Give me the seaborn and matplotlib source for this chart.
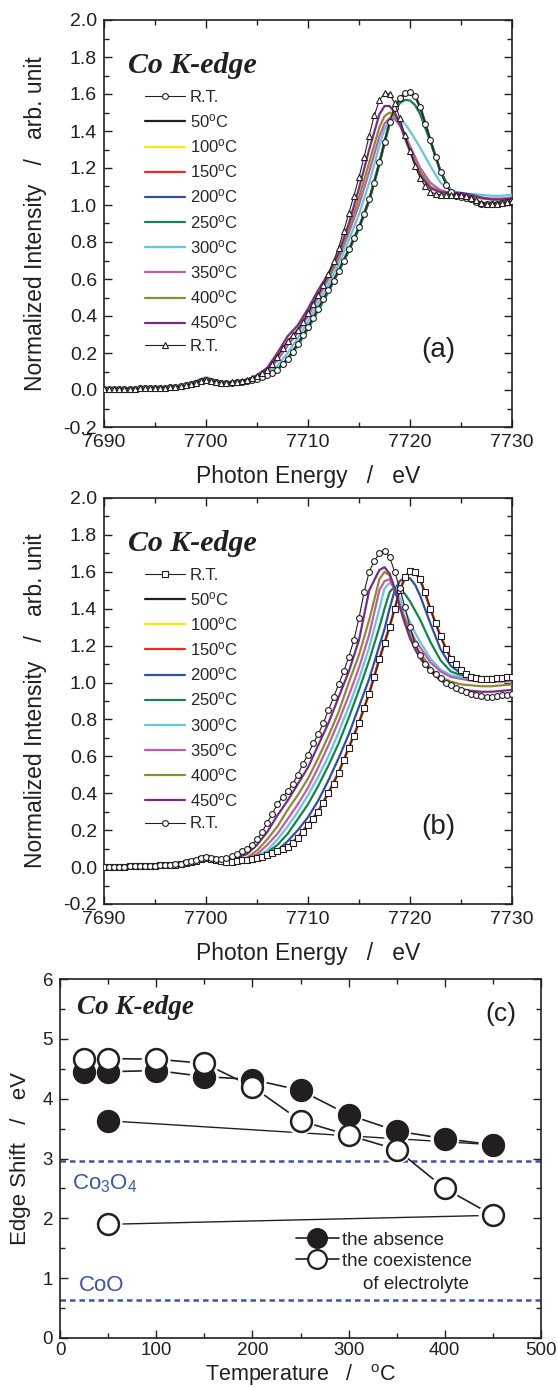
import matplotlib
matplotlib.use('Agg')
import matplotlib.pyplot as plt
import seaborn as sns
from matplotlib.ticker import MultipleLocator
from matplotlib.lines import Line2D

# ---------------- data ----------------
# fine energy grid for the marker (R.T.) spectra
E_FINE = [7690, 7690.5, 7691, 7691.5, 7692, 7692.5, 7693, 7693.5, 7694, 7694.5,
          7695, 7695.5, 7696, 7696.5, 7697, 7697.5, 7698, 7698.5, 7699, 7699.5,
          7700, 7700.5, 7701, 7701.5, 7702, 7702.5, 7703, 7703.5, 7704, 7704.5,
          7705, 7705.5, 7706, 7706.5, 7707, 7707.5, 7708, 7708.5, 7709, 7709.5,
          7710, 7710.5, 7711, 7711.5, 7712, 7712.5, 7713, 7713.5, 7714, 7714.5,
          7715, 7715.5, 7716, 7716.5, 7717, 7717.5, 7718, 7718.5, 7719, 7719.5,
          7720, 7720.5, 7721, 7721.5, 7722, 7722.5, 7723, 7723.5, 7724, 7724.5,
          7725, 7725.5, 7726, 7726.5, 7727, 7727.5, 7728, 7728.5, 7729, 7729.5,
          7730]
# coarse energy grid for the temperature spectra
E_GRID = [7690, 7692, 7694, 7696, 7698, 7699, 7700, 7701, 7702, 7703,
          7704, 7705, 7706, 7707, 7708, 7709, 7710, 7711, 7712, 7713,
          7714, 7715, 7716, 7717, 7717.5, 7718, 7718.5, 7719, 7719.5, 7720,
          7720.5, 7721, 7722, 7723, 7724, 7725, 7726, 7727, 7728, 7729, 7730]

TEMP_LABELS = [50, 100, 150, 200, 250, 300, 350, 400, 450]
TEMP_COLORS = ['#231F20', '#F5EB00', '#EE2A24', '#2E4FA3', '#13854A',
               '#62C9DD', '#C25AAE', '#8C8C2C', '#7A2A88']

# ---- panel (a) ----
A_RT_FIRST = [0.005, 0.005, 0.006, 0.006, 0.007, 0.007, 0.008, 0.009, 0.010, 0.010,
              0.011, 0.012, 0.013, 0.015, 0.018, 0.021, 0.025, 0.032, 0.040, 0.050,
              0.055, 0.050, 0.042, 0.037, 0.036, 0.038, 0.041, 0.045, 0.050, 0.055,
              0.062, 0.070, 0.080, 0.094, 0.110, 0.138, 0.170, 0.208, 0.250, 0.295,
              0.340, 0.390, 0.440, 0.490, 0.540, 0.590, 0.645, 0.700, 0.760, 0.820,
              0.880, 0.950, 1.030, 1.120, 1.230, 1.340, 1.450, 1.525, 1.578, 1.605,
              1.612, 1.590, 1.530, 1.440, 1.350, 1.260, 1.180, 1.110, 1.070, 1.050,
              1.045, 1.040, 1.030, 1.015, 1.005, 1.003, 1.005, 1.008, 1.012, 1.016,
              1.020]
A_RT_LAST = [0.005, 0.005, 0.006, 0.006, 0.007, 0.007, 0.008, 0.009, 0.010, 0.010,
             0.011, 0.012, 0.013, 0.015, 0.018, 0.021, 0.025, 0.032, 0.040, 0.050,
             0.055, 0.050, 0.043, 0.039, 0.038, 0.041, 0.045, 0.050, 0.055, 0.063,
             0.075, 0.090, 0.110, 0.140, 0.180, 0.225, 0.265, 0.295, 0.325, 0.365,
             0.415, 0.465, 0.515, 0.565, 0.625, 0.695, 0.770, 0.860, 0.955, 1.050,
             1.150, 1.260, 1.375, 1.485, 1.565, 1.605, 1.600, 1.550, 1.470, 1.380,
             1.290, 1.210, 1.145, 1.100, 1.072, 1.060, 1.055, 1.055, 1.055, 1.055,
             1.055, 1.050, 1.040, 1.025, 1.010, 1.005, 1.005, 1.008, 1.012, 1.016,
             1.020]
A_50 = [0.005, 0.007, 0.010, 0.013, 0.025, 0.040, 0.055, 0.042, 0.036, 0.041,
        0.050, 0.062, 0.080, 0.110, 0.170, 0.250, 0.340, 0.440, 0.540, 0.645,
        0.760, 0.880, 1.030, 1.230, 1.340, 1.450, 1.525, 1.578, 1.605, 1.610,
        1.590, 1.530, 1.350, 1.180, 1.070, 1.045, 1.030, 1.005, 1.005, 1.012, 1.020]
A_100 = [0.005, 0.007, 0.010, 0.013, 0.025, 0.040, 0.055, 0.042, 0.036, 0.041,
         0.050, 0.062, 0.080, 0.110, 0.170, 0.250, 0.340, 0.440, 0.540, 0.645,
         0.760, 0.880, 1.030, 1.230, 1.340, 1.450, 1.522, 1.575, 1.600, 1.605,
         1.588, 1.530, 1.350, 1.180, 1.070, 1.045, 1.030, 1.005, 1.005, 1.012, 1.020]
A_150 = [0.005, 0.007, 0.010, 0.013, 0.025, 0.040, 0.055, 0.042, 0.036, 0.041,
         0.050, 0.062, 0.080, 0.110, 0.168, 0.248, 0.338, 0.438, 0.538, 0.643,
         0.758, 0.878, 1.028, 1.228, 1.338, 1.448, 1.520, 1.572, 1.598, 1.600,
         1.585, 1.530, 1.350, 1.180, 1.072, 1.045, 1.030, 1.006, 1.006, 1.012, 1.020]
A_200 = [0.005, 0.007, 0.010, 0.013, 0.025, 0.040, 0.055, 0.042, 0.036, 0.041,
         0.050, 0.062, 0.080, 0.110, 0.168, 0.248, 0.338, 0.438, 0.538, 0.643,
         0.758, 0.878, 1.028, 1.228, 1.338, 1.448, 1.520, 1.575, 1.598, 1.600,
         1.585, 1.530, 1.350, 1.180, 1.075, 1.045, 1.030, 1.008, 1.008, 1.014, 1.020]
A_250 = [0.005, 0.007, 0.010, 0.013, 0.025, 0.040, 0.055, 0.042, 0.036, 0.041,
         0.050, 0.060, 0.078, 0.108, 0.165, 0.240, 0.330, 0.430, 0.530, 0.640,
         0.750, 0.870, 1.020, 1.220, 1.330, 1.435, 1.510, 1.550, 1.568, 1.565,
         1.540, 1.490, 1.340, 1.180, 1.080, 1.045, 1.030, 1.010, 1.008, 1.014, 1.020]
A_300 = [0.005, 0.007, 0.010, 0.013, 0.028, 0.050, 0.070, 0.050, 0.040, 0.045,
         0.055, 0.065, 0.090, 0.130, 0.200, 0.280, 0.370, 0.470, 0.570, 0.680,
         0.810, 0.950, 1.120, 1.320, 1.410, 1.460, 1.480, 1.465, 1.440, 1.400,
         1.355, 1.310, 1.210, 1.120, 1.080, 1.065, 1.060, 1.055, 1.050, 1.050, 1.055]
A_350 = [0.005, 0.007, 0.010, 0.013, 0.027, 0.045, 0.065, 0.050, 0.040, 0.045,
         0.055, 0.070, 0.100, 0.160, 0.240, 0.310, 0.400, 0.500, 0.600, 0.710,
         0.850, 1.000, 1.180, 1.370, 1.440, 1.470, 1.465, 1.430, 1.380, 1.320,
         1.260, 1.200, 1.120, 1.080, 1.065, 1.065, 1.055, 1.040, 1.035, 1.035, 1.040]
A_400 = [0.005, 0.007, 0.010, 0.012, 0.026, 0.045, 0.060, 0.045, 0.040, 0.045,
         0.055, 0.075, 0.110, 0.180, 0.260, 0.330, 0.420, 0.520, 0.610, 0.720,
         0.870, 1.040, 1.230, 1.420, 1.480, 1.500, 1.485, 1.440, 1.370, 1.300,
         1.235, 1.180, 1.100, 1.070, 1.060, 1.060, 1.050, 1.035, 1.030, 1.030, 1.035]
A_450 = [0.005, 0.007, 0.010, 0.012, 0.026, 0.045, 0.060, 0.045, 0.040, 0.045,
         0.055, 0.080, 0.120, 0.200, 0.290, 0.350, 0.440, 0.540, 0.630, 0.740,
         0.900, 1.090, 1.300, 1.490, 1.535, 1.535, 1.500, 1.440, 1.360, 1.290,
         1.220, 1.160, 1.090, 1.070, 1.065, 1.065, 1.055, 1.040, 1.030, 1.030, 1.035]

# ---- panel (b) ----
B_RT_FIRST = [0.000, 0.000, 0.001, 0.002, 0.003, 0.004, 0.005, 0.005, 0.006, 0.007,
              0.008, 0.009, 0.010, 0.012, 0.014, 0.017, 0.020, 0.027, 0.035, 0.045,
              0.050, 0.045, 0.036, 0.031, 0.030, 0.030, 0.033, 0.036, 0.040, 0.045,
              0.050, 0.057, 0.065, 0.075, 0.085, 0.096, 0.110, 0.132, 0.160, 0.192,
              0.228, 0.262, 0.300, 0.348, 0.400, 0.452, 0.510, 0.578, 0.645, 0.712,
              0.780, 0.860, 0.940, 1.030, 1.125, 1.212, 1.300, 1.400, 1.500, 1.570,
              1.605, 1.600, 1.560, 1.490, 1.400, 1.320, 1.250, 1.180, 1.130, 1.098,
              1.070, 1.045, 1.030, 1.025, 1.020, 1.020, 1.020, 1.022, 1.025, 1.028,
              1.030]
B_RT_LAST = [0.000, 0.000, 0.001, 0.002, 0.003, 0.004, 0.005, 0.005, 0.006, 0.007,
             0.008, 0.009, 0.010, 0.012, 0.015, 0.019, 0.025, 0.032, 0.040, 0.050,
             0.055, 0.050, 0.045, 0.045, 0.050, 0.060, 0.070, 0.085, 0.100, 0.122,
             0.150, 0.190, 0.240, 0.290, 0.340, 0.380, 0.410, 0.450, 0.500, 0.560,
             0.610, 0.670, 0.720, 0.780, 0.850, 0.920, 0.990, 1.060, 1.140, 1.230,
             1.350, 1.490, 1.600, 1.660, 1.700, 1.715, 1.680, 1.600, 1.510, 1.410,
             1.300, 1.210, 1.150, 1.100, 1.070, 1.045, 1.025, 1.000, 0.985, 0.970,
             0.960, 0.950, 0.940, 0.930, 0.925, 0.920, 0.920, 0.925, 0.930, 0.935,
             0.940]
B_50 = [0.000, 0.003, 0.006, 0.010, 0.020, 0.035, 0.050, 0.036, 0.030, 0.033,
        0.040, 0.050, 0.065, 0.085, 0.110, 0.160, 0.228, 0.300, 0.400, 0.510,
        0.645, 0.780, 0.940, 1.125, 1.212, 1.300, 1.400, 1.500, 1.570, 1.605,
        1.600, 1.560, 1.400, 1.250, 1.130, 1.070, 1.030, 1.020, 1.020, 1.025, 1.030]
B_100 = [0.000, 0.003, 0.006, 0.010, 0.020, 0.035, 0.050, 0.036, 0.030, 0.033,
         0.040, 0.050, 0.065, 0.085, 0.111, 0.161, 0.229, 0.301, 0.401, 0.511,
         0.646, 0.781, 0.941, 1.126, 1.213, 1.301, 1.400, 1.498, 1.568, 1.603,
         1.598, 1.558, 1.400, 1.250, 1.130, 1.070, 1.030, 1.020, 1.020, 1.025, 1.030]
B_150 = [0.000, 0.003, 0.006, 0.010, 0.020, 0.035, 0.050, 0.036, 0.030, 0.033,
         0.040, 0.050, 0.066, 0.086, 0.112, 0.163, 0.232, 0.305, 0.405, 0.515,
         0.650, 0.785, 0.945, 1.130, 1.218, 1.305, 1.402, 1.497, 1.565, 1.600,
         1.595, 1.555, 1.398, 1.250, 1.130, 1.070, 1.030, 1.020, 1.020, 1.025, 1.030]
B_200 = [0.000, 0.003, 0.006, 0.010, 0.020, 0.035, 0.050, 0.037, 0.031, 0.034,
         0.040, 0.048, 0.060, 0.090, 0.140, 0.200, 0.270, 0.360, 0.470, 0.590,
         0.720, 0.870, 1.020, 1.200, 1.290, 1.400, 1.500, 1.550, 1.570, 1.565,
         1.530, 1.470, 1.320, 1.180, 1.090, 1.050, 1.030, 1.020, 1.020, 1.020, 1.020]
B_250 = [0.000, 0.003, 0.006, 0.010, 0.020, 0.035, 0.050, 0.038, 0.033, 0.036,
         0.040, 0.050, 0.080, 0.120, 0.180, 0.260, 0.340, 0.440, 0.550, 0.670,
         0.810, 0.960, 1.120, 1.300, 1.400, 1.490, 1.520, 1.510, 1.480, 1.440,
         1.390, 1.340, 1.220, 1.120, 1.060, 1.040, 1.030, 1.030, 1.030, 1.030, 1.030]
B_300 = [0.000, 0.003, 0.006, 0.010, 0.020, 0.035, 0.050, 0.039, 0.034, 0.037,
         0.040, 0.060, 0.090, 0.150, 0.220, 0.300, 0.390, 0.490, 0.600, 0.730,
         0.870, 1.020, 1.190, 1.400, 1.510, 1.540, 1.520, 1.460, 1.390, 1.330,
         1.270, 1.220, 1.130, 1.070, 1.040, 1.030, 1.020, 1.020, 1.020, 1.020, 1.020]
B_350 = [0.000, 0.003, 0.006, 0.010, 0.020, 0.035, 0.050, 0.040, 0.036, 0.040,
         0.045, 0.070, 0.120, 0.180, 0.260, 0.340, 0.430, 0.540, 0.660, 0.790,
         0.930, 1.080, 1.260, 1.500, 1.550, 1.560, 1.500, 1.420, 1.350, 1.290,
         1.230, 1.190, 1.110, 1.060, 1.030, 1.020, 1.010, 1.005, 1.005, 1.005, 1.010]
B_400 = [0.000, 0.003, 0.006, 0.010, 0.020, 0.035, 0.050, 0.042, 0.040, 0.045,
         0.050, 0.090, 0.150, 0.220, 0.310, 0.390, 0.480, 0.590, 0.710, 0.840,
         1.000, 1.150, 1.340, 1.560, 1.600, 1.580, 1.510, 1.420, 1.340, 1.260,
         1.200, 1.160, 1.080, 1.030, 1.005, 0.990, 0.985, 0.980, 0.980, 0.985, 0.990]
B_450 = [0.000, 0.003, 0.006, 0.010, 0.020, 0.035, 0.052, 0.045, 0.045, 0.052,
         0.070, 0.120, 0.190, 0.280, 0.360, 0.450, 0.540, 0.660, 0.780, 0.920,
         1.060, 1.230, 1.500, 1.610, 1.625, 1.590, 1.510, 1.410, 1.320, 1.240,
         1.180, 1.130, 1.060, 1.010, 0.980, 0.965, 0.955, 0.950, 0.950, 0.955, 0.960]

# ---- panel (c) ----
T_HEAT = [25, 50, 100, 150, 200, 250, 300, 350, 400, 450]
SHIFT_ABSENCE = [4.45, 4.45, 4.47, 4.37, 4.32, 4.14, 3.73, 3.46, 3.33, 3.23]
SHIFT_COEXIST = [4.67, 4.67, 4.66, 4.59, 4.20, 3.63, 3.39, 3.15, 2.50, 2.05]
T_COOLED = 50
SHIFT_ABSENCE_COOLED = 3.63
SHIFT_COEXIST_COOLED = 1.90
REF_NAMES = ['Co$_3$O$_4$', 'CoO']
REF_SHIFT = [2.96, 0.63]

# ---------------- style ----------------
sns.set_theme(style='ticks')
plt.rcParams['font.family'] = ['Liberation Sans', 'DejaVu Sans']
plt.rcParams['mathtext.fontset'] = 'custom'
plt.rcParams['mathtext.rm'] = 'Liberation Sans'
plt.rcParams['mathtext.it'] = 'Liberation Sans:italic'
plt.rcParams['mathtext.bf'] = 'Liberation Sans:bold'
plt.rcParams['axes.linewidth'] = 1.2
plt.rcParams['axes.edgecolor'] = '#231F20'

fig = plt.figure(figsize=(5.57, 13.87), dpi=100)
W, H = 557.0, 1387.0
axA = fig.add_axes([104 / W, 1 - 427 / H, 408 / W, 407 / H])
axB = fig.add_axes([104 / W, 1 - 904 / H, 408 / W, 406 / H])
axC = fig.add_axes([60 / W, 1 - 1338 / H, 481 / W, 359 / H])

TITLE_FONT = dict(family=['Liberation Serif', 'DejaVu Serif'], weight='bold',
                  style='italic', size=21.5)


def style_axes(ax):
    ax.tick_params(which='both', direction='in', top=True, right=True,
                   colors='#231F20', labelcolor='#231F20')
    ax.tick_params(which='major', length=6, width=1.0, labelsize=14, pad=5)
    ax.tick_params(which='minor', length=3.5, width=1.0)
    for s in ax.spines.values():
        s.set_linewidth(1.2)


def deg(t):
    return f'{t}$^{{\\mathregular{{o}}}}$C'


def spectra_panel(ax, rt_first, rt_last, curves, m_first, m_last, tag):
    sns.lineplot(x=E_FINE, y=rt_first, ax=ax, color='#231F20', lw=0.8,
                 marker=m_first, markersize=4.2, markerfacecolor='white',
                 markeredgecolor='#231F20', markeredgewidth=0.8,
                 label='R.T.', zorder=5, estimator=None, sort=False)
    for t, col, vals in zip(TEMP_LABELS, TEMP_COLORS, curves):
        sns.lineplot(x=E_GRID, y=vals, ax=ax, color=col, lw=1.6,
                     label=deg(t), zorder=3, estimator=None, sort=False)
    sns.lineplot(x=E_FINE, y=rt_last, ax=ax, color='#231F20', lw=0.8,
                 marker=m_last, markersize=4.2 if m_last == 'o' else 4.6,
                 markerfacecolor='white', markeredgecolor='#231F20',
                 markeredgewidth=0.8, label='R.T.', zorder=6,
                 estimator=None, sort=False)
    ax.set_xlim(7690, 7730)
    ax.set_ylim(-0.2, 2.0)
    ax.xaxis.set_major_locator(MultipleLocator(10))
    ax.xaxis.set_minor_locator(MultipleLocator(5))
    ax.yaxis.set_major_locator(MultipleLocator(0.2))
    ax.yaxis.set_minor_locator(MultipleLocator(0.1))
    ax.yaxis.set_major_formatter(matplotlib.ticker.FormatStrFormatter('%.1f'))
    style_axes(ax)
    ax.set_xlabel('Photon Energy   /   eV', fontsize=16.5, color='#231F20')
    ax.set_ylabel('Normalized Intensity   /   arb. unit', fontsize=16.5,
                  color='#231F20')
    ax.xaxis.label.set_va('center')
    ax.yaxis.label.set_va('center')
    ax.xaxis.set_label_coords(0.5, -0.122)
    ax.yaxis.set_label_coords(-0.169, 0.5)
    ax.text(0.059, 0.889, 'Co K-edge', transform=ax.transAxes, ha='left',
            va='center', color='#231F20', **TITLE_FONT)
    ax.text(0.82, 0.19, tag, transform=ax.transAxes, ha='center',
            va='center', fontsize=20, color='#231F20')
    handles, labels = ax.get_legend_handles_labels()
    ax.legend(handles, labels, loc='upper left', bbox_to_anchor=(0.1, 0.828),
              frameon=False, fontsize=12, handlelength=2.4, handletextpad=0.3,
              labelspacing=0.43, borderpad=0.0, borderaxespad=0.0)


spectra_panel(axA, A_RT_FIRST, A_RT_LAST,
              [A_50, A_100, A_150, A_200, A_250, A_300, A_350, A_400, A_450],
              'o', '^', '(a)')
spectra_panel(axB, B_RT_FIRST, B_RT_LAST,
              [B_50, B_100, B_150, B_200, B_250, B_300, B_350, B_400, B_450],
              's', 'o', '(b)')

# ---------------- panel (c) ----------------
ax = axC
BLUE = '#3A56A8'
for name, lvl, tx, ty in zip(REF_NAMES, REF_SHIFT, [12, 20], [2.58, 0.88]):
    ax.axhline(lvl, color=BLUE, lw=1.8, ls=(0, (2.2, 1.6)), zorder=0.5)
    ax.text(tx, ty, name, color=BLUE, fontsize=16, ha='left', va='center')

sns.lineplot(x=T_HEAT, y=SHIFT_ABSENCE, ax=ax, color='#231F20', lw=1.2,
             zorder=1, estimator=None, sort=False)
sns.lineplot(x=T_HEAT, y=SHIFT_COEXIST, ax=ax, color='#231F20', lw=1.2,
             zorder=1, estimator=None, sort=False)
sns.lineplot(x=[T_HEAT[-1], T_COOLED], y=[SHIFT_ABSENCE[-1], SHIFT_ABSENCE_COOLED],
             ax=ax, color='#231F20', lw=1.0, zorder=1, estimator=None, sort=False)
sns.lineplot(x=[T_HEAT[-1], T_COOLED], y=[SHIFT_COEXIST[-1], SHIFT_COEXIST_COOLED],
             ax=ax, color='#231F20', lw=1.0, zorder=1, estimator=None, sort=False)

T_ALL = T_HEAT + [T_COOLED]
ABS_ALL = SHIFT_ABSENCE + [SHIFT_ABSENCE_COOLED]
COEX_ALL = SHIFT_COEXIST + [SHIFT_COEXIST_COOLED]
# white halos produce the line gaps around markers
sns.scatterplot(x=T_ALL, y=ABS_ALL, ax=ax, s=430, color='white',
                edgecolor='none', zorder=2, legend=False)
sns.scatterplot(x=T_ALL, y=COEX_ALL, ax=ax, s=430, color='white',
                edgecolor='none', zorder=2, legend=False)
sns.scatterplot(x=T_ALL, y=ABS_ALL, ax=ax, s=225, color='#231F20',
                edgecolor='#231F20', linewidth=1.8, zorder=3, legend=False)
sns.scatterplot(x=T_ALL, y=COEX_ALL, ax=ax, s=225, color='white',
                edgecolor='#231F20', linewidth=1.8, zorder=4, legend=False)

ax.set_xlim(0, 500)
ax.set_ylim(0, 6)
ax.xaxis.set_major_locator(MultipleLocator(100))
ax.xaxis.set_minor_locator(MultipleLocator(50))
ax.yaxis.set_major_locator(MultipleLocator(1))
ax.yaxis.set_minor_locator(MultipleLocator(0.5))
style_axes(ax)
ax.tick_params(which='major', labelsize=13.5)
ax.tick_params(axis='x', which='major', pad=3)
ax.set_xlabel('Temperature   /   $^{\\mathregular{o}}$C', fontsize=15.5,
              color='#231F20')
ax.set_ylabel('Edge Shift   /   eV', fontsize=16, color='#231F20')
ax.xaxis.label.set_va('center')
ax.yaxis.label.set_va('center')
ax.xaxis.set_label_coords(0.5, -0.104)
ax.yaxis.set_label_coords(-0.083, 0.5)
ax.text(0.036, 0.92, 'Co K-edge', transform=ax.transAxes, ha='left',
        va='center', color='#231F20', **dict(TITLE_FONT, size=19.5))
ax.text(0.917, 0.903, '(c)', transform=ax.transAxes, ha='center',
        va='center', fontsize=19, color='#231F20')

leg_handles = [
    Line2D([], [], color='#231F20', lw=1.2, marker='o', markersize=13.5,
           markerfacecolor='#231F20', markeredgecolor='#231F20', markeredgewidth=1.6),
    Line2D([], [], color='#231F20', lw=1.2, marker='o', markersize=13.5,
           markerfacecolor='white', markeredgecolor='#231F20', markeredgewidth=1.6),
]
ax.legend(leg_handles, ['the absence', 'the coexistence'], loc='upper left',
          bbox_to_anchor=(0.49, 0.296), frameon=False, fontsize=13.5,
          handlelength=2.3, handletextpad=0.15, labelspacing=0.2,
          borderpad=0.0, borderaxespad=0.0)
ax.text(0.63, 0.150, 'of electrolyte', transform=ax.transAxes, ha='left',
        va='center', fontsize=13.5, color='#231F20')

fig.savefig('out.png', dpi=100)
